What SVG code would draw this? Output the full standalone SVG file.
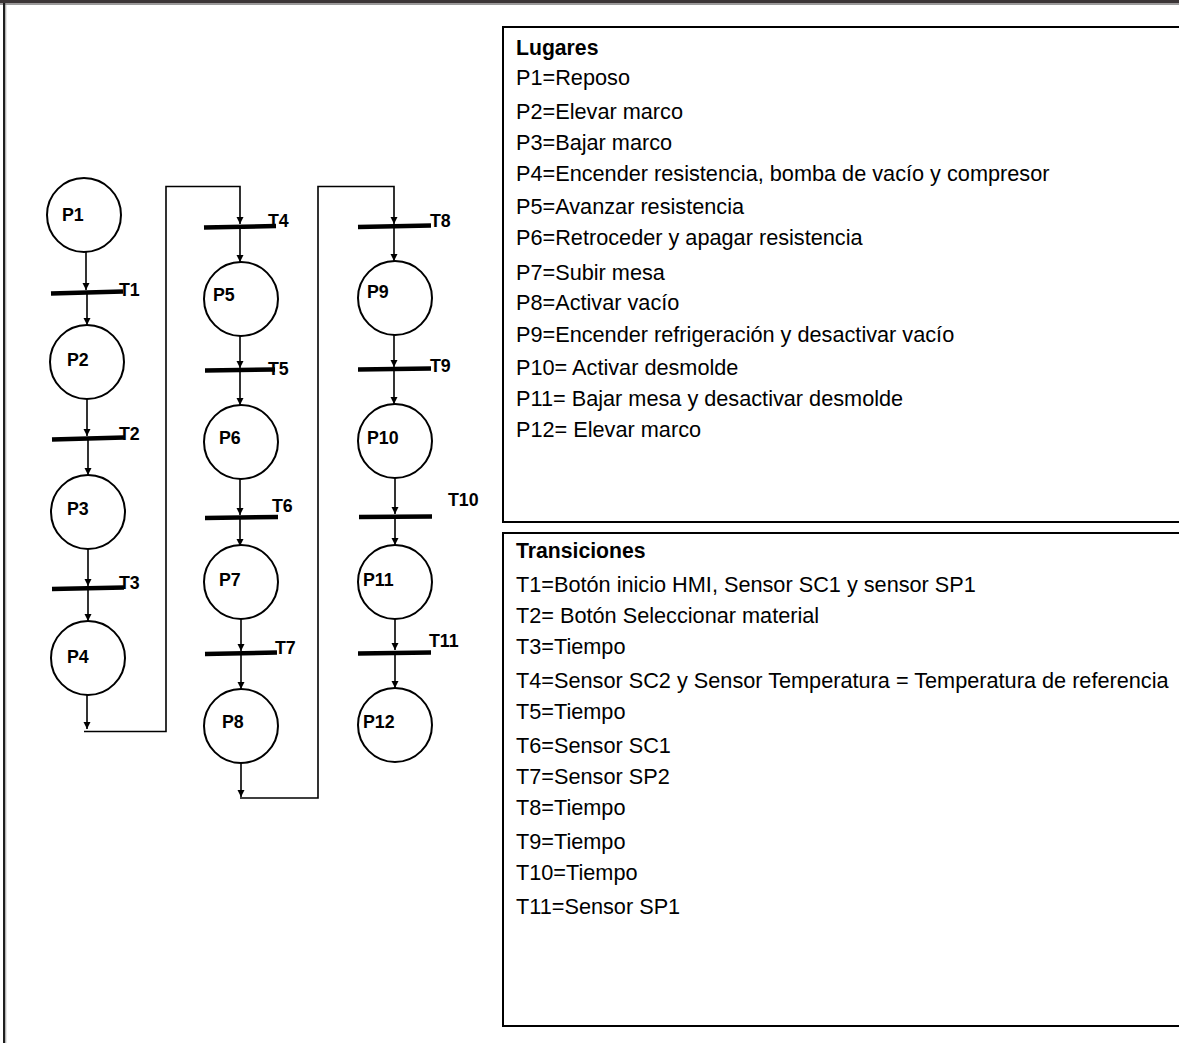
<svg xmlns="http://www.w3.org/2000/svg" width="1179" height="1043" viewBox="0 0 1179 1043">
<defs>
<marker id="ah" markerUnits="userSpaceOnUse" markerWidth="8" markerHeight="8" refX="7" refY="3.5" orient="auto">
<path d="M0,0 L7,3.5 L0,7 z" fill="#000"/>
</marker>
<style>
.place{fill:#fff;stroke:#000;stroke-width:2}
.bar{stroke:#000;stroke-width:4.5}
.arc{fill:none;stroke:#000;stroke-width:1.6}
.lbl{font-family:"Liberation Sans",Arial,sans-serif;font-weight:bold;font-size:17.8px;fill:#000}
.box{fill:#fff;stroke:#000;stroke-width:2}
.tx{font-family:"Liberation Sans",Arial,sans-serif;font-size:21.7px;fill:#000}
.hd{font-family:"Liberation Sans",Arial,sans-serif;font-size:21.2px;font-weight:bold;fill:#000}
</style>
</defs>
<rect x="0" y="0" width="1179" height="1043" fill="#fff"/>
<rect x="0" y="0" width="1179" height="3.5" fill="#3b3536"/>
<line x1="0" y1="4.5" x2="1179" y2="4.5" stroke="#9a9a9a" stroke-width="1"/>
<rect x="3" y="3" width="2.2" height="1040" fill="#1e1e1e"/>
<line x1="5.8" y1="5" x2="5.8" y2="1043" stroke="#9a9a9a" stroke-width="0.8"/>

<g id="connectors">
<line class="arc" x1="86" y1="252" x2="86" y2="290" marker-end="url(#ah)"/>
<line class="arc" x1="87" y1="292" x2="87" y2="325" marker-end="url(#ah)"/>
<line class="arc" x1="87" y1="399" x2="87" y2="436" marker-end="url(#ah)"/>
<line class="arc" x1="88" y1="438" x2="88" y2="475" marker-end="url(#ah)"/>
<line class="arc" x1="88" y1="549" x2="88" y2="586" marker-end="url(#ah)"/>
<line class="arc" x1="88" y1="588" x2="88" y2="621" marker-end="url(#ah)"/>
<line class="arc" x1="87" y1="695" x2="87" y2="729" marker-end="url(#ah)"/>
<polyline class="arc" points="84,731.5 166,731.5 166,186.5 240,186.5 240,224" marker-end="url(#ah)"/>
<line class="arc" x1="240" y1="226" x2="240" y2="262" marker-end="url(#ah)"/>
<line class="arc" x1="240" y1="335" x2="240" y2="368" marker-end="url(#ah)"/>
<line class="arc" x1="240" y1="370" x2="240" y2="405" marker-end="url(#ah)"/>
<line class="arc" x1="240" y1="478" x2="240" y2="515" marker-end="url(#ah)"/>
<line class="arc" x1="240" y1="517" x2="240" y2="546" marker-end="url(#ah)"/>
<line class="arc" x1="241" y1="618" x2="241" y2="651" marker-end="url(#ah)"/>
<line class="arc" x1="241" y1="653" x2="241" y2="689" marker-end="url(#ah)"/>
<line class="arc" x1="241" y1="762" x2="241" y2="797" marker-end="url(#ah)"/>
<polyline class="arc" points="240,798 318,798 318,186.5 394,186.5 394,224" marker-end="url(#ah)"/>
<line class="arc" x1="394" y1="226" x2="394" y2="261" marker-end="url(#ah)"/>
<line class="arc" x1="394" y1="334" x2="394" y2="367" marker-end="url(#ah)"/>
<line class="arc" x1="394" y1="369" x2="394" y2="404" marker-end="url(#ah)"/>
<line class="arc" x1="395" y1="477" x2="395" y2="514" marker-end="url(#ah)"/>
<line class="arc" x1="395" y1="516" x2="395" y2="545" marker-end="url(#ah)"/>
<line class="arc" x1="395" y1="618" x2="395" y2="650" marker-end="url(#ah)"/>
<line class="arc" x1="395" y1="652" x2="395" y2="688" marker-end="url(#ah)"/>
</g>

<g id="P1"><circle class="place" cx="84" cy="215" r="37"/><text class="lbl" x="62" y="221">P1</text></g>
<g id="T1"><line class="bar" x1="51" y1="293.5" x2="123" y2="291.5"/><text class="lbl" x="119" y="296">T1</text></g>
<g id="P2"><circle class="place" cx="87" cy="362" r="37"/><text class="lbl" x="67" y="366">P2</text></g>
<g id="T2"><line class="bar" x1="52" y1="439.5" x2="124" y2="437.5"/><text class="lbl" x="119" y="440">T2</text></g>
<g id="P3"><circle class="place" cx="88" cy="512" r="37"/><text class="lbl" x="67" y="515">P3</text></g>
<g id="T3"><line class="bar" x1="52" y1="589" x2="124" y2="587.5"/><text class="lbl" x="119" y="589">T3</text></g>
<g id="P4"><circle class="place" cx="88" cy="658" r="37"/><text class="lbl" x="67" y="663">P4</text></g>

<g id="T4"><line class="bar" x1="204" y1="227.5" x2="276" y2="226"/><text class="lbl" x="268" y="227">T4</text></g>
<g id="P5"><circle class="place" cx="241" cy="299" r="37"/><text class="lbl" x="213" y="301">P5</text></g>
<g id="T5"><line class="bar" x1="205" y1="370.5" x2="275" y2="369.5"/><text class="lbl" x="268" y="375">T5</text></g>
<g id="P6"><circle class="place" cx="241" cy="442" r="37"/><text class="lbl" x="219" y="444">P6</text></g>
<g id="T6"><line class="bar" x1="205" y1="518" x2="278" y2="517"/><text class="lbl" x="272" y="512">T6</text></g>
<g id="P7"><circle class="place" cx="241" cy="582" r="37"/><text class="lbl" x="219" y="586">P7</text></g>
<g id="T7"><line class="bar" x1="205" y1="654" x2="277" y2="652.5"/><text class="lbl" x="275" y="654">T7</text></g>
<g id="P8"><circle class="place" cx="241" cy="726" r="37"/><text class="lbl" x="222" y="728">P8</text></g>

<g id="T8"><line class="bar" x1="358" y1="227" x2="431" y2="225.5"/><text class="lbl" x="430" y="227">T8</text></g>
<g id="P9"><circle class="place" cx="395" cy="298" r="37"/><text class="lbl" x="367" y="298">P9</text></g>
<g id="T9"><line class="bar" x1="358" y1="369.5" x2="431" y2="368.5"/><text class="lbl" x="430" y="372">T9</text></g>
<g id="P10"><circle class="place" cx="395" cy="441" r="37"/><text class="lbl" x="367" y="444">P10</text></g>
<g id="T10"><line class="bar" x1="359" y1="517" x2="432" y2="516.5"/><text class="lbl" x="448" y="506">T10</text></g>
<g id="P11"><circle class="place" cx="395" cy="582" r="37"/><text class="lbl" x="363" y="586">P11</text></g>
<g id="T11"><line class="bar" x1="358" y1="653.5" x2="431" y2="652.5"/><text class="lbl" x="429" y="647">T11</text></g>
<g id="P12"><circle class="place" cx="395" cy="725" r="37"/><text class="lbl" x="363" y="728">P12</text></g>

<g id="lugares">
<rect class="box" x="503" y="27" width="690" height="495"/>
<text class="hd" x="516" y="55">Lugares</text>
<text class="tx" x="516" y="85">P1=Reposo</text>
<text class="tx" x="516" y="119">P2=Elevar marco</text>
<text class="tx" x="516" y="150">P3=Bajar marco</text>
<text class="tx" x="516" y="181">P4=Encender resistencia, bomba de vacío y compresor</text>
<text class="tx" x="516" y="214">P5=Avanzar resistencia</text>
<text class="tx" x="516" y="245">P6=Retroceder y apagar resistencia</text>
<text class="tx" x="516" y="280">P7=Subir mesa</text>
<text class="tx" x="516" y="310">P8=Activar vacío</text>
<text class="tx" x="516" y="342">P9=Encender refrigeración y desactivar vacío</text>
<text class="tx" x="516" y="375">P10= Activar desmolde</text>
<text class="tx" x="516" y="406">P11= Bajar mesa y desactivar desmolde</text>
<text class="tx" x="516" y="437">P12= Elevar marco</text>
</g>

<g id="transiciones">
<rect class="box" x="503" y="533" width="690" height="493"/>
<text class="hd" x="516" y="558">Transiciones</text>
<text class="tx" x="516" y="592">T1=Botón inicio HMI, Sensor SC1 y sensor SP1</text>
<text class="tx" x="516" y="623">T2= Botón Seleccionar material</text>
<text class="tx" x="516" y="654">T3=Tiempo</text>
<text class="tx" x="516" y="688">T4=Sensor SC2 y Sensor Temperatura = Temperatura de referencia</text>
<text class="tx" x="516" y="719">T5=Tiempo</text>
<text class="tx" x="516" y="753">T6=Sensor SC1</text>
<text class="tx" x="516" y="784">T7=Sensor SP2</text>
<text class="tx" x="516" y="815">T8=Tiempo</text>
<text class="tx" x="516" y="849">T9=Tiempo</text>
<text class="tx" x="516" y="880">T10=Tiempo</text>
<text class="tx" x="516" y="914">T11=Sensor SP1</text>
</g>
</svg>
